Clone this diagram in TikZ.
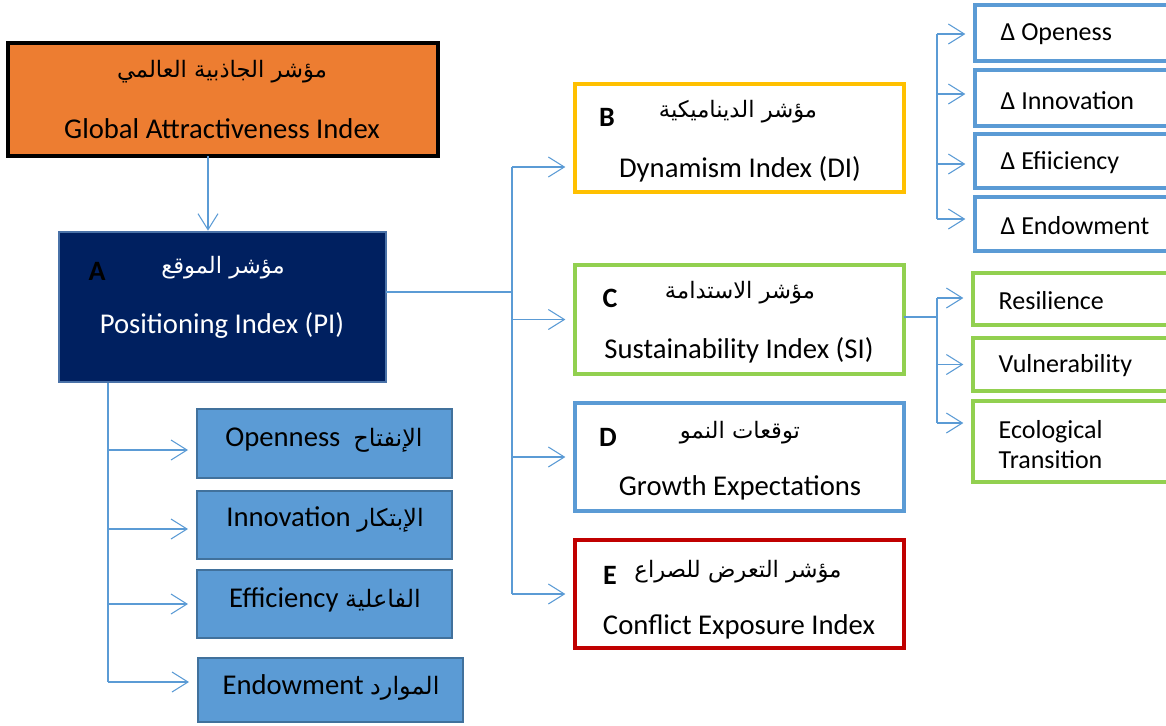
\documentclass[tikz,border=0pt]{standalone}
\usepackage{fontspec}
\setmainfont{Carlito}
\newfontfamily\arabicfont[Script=Arabic]{DejaVu Sans}
\TeXXeTstate=1
\usetikzlibrary{arrows.meta,fit}
\definecolor{orangebox}{HTML}{ED7D31}
\definecolor{navybox}{HTML}{002060}
\definecolor{navyline}{HTML}{4A72A8}
\definecolor{lightblue}{HTML}{5B9BD5}
\definecolor{darkblue}{HTML}{41719C}
\definecolor{yellowline}{HTML}{FFC000}
\definecolor{greenline}{HTML}{92D050}
\definecolor{redline}{HTML}{C00000}
\newcommand{\ar}[1]{{\arabicfont\beginR #1\endR}}
\newcommand{\sar}[1]{{\fontsize{18}{20}\selectfont\arabicfont\beginR #1\endR}}

\begin{document}
\begin{tikzpicture}[x=0.75pt,y=-0.75pt,
  box/.style={inner sep=0pt,line width=2.5pt},
  link/.style={draw=lightblue,line width=0.8pt},
  dlink/.style={draw=lightblue,line width=0.6pt,double=white,double distance=1pt},
  arr/.style={link,-{Straight Barb[length=12pt,width=15pt]}},
  gap/.style={shorten >=6pt},
  entxt/.style={font=\fontsize{21.5}{24}\selectfont},
  artxt/.style={font=\fontsize{17}{20}\selectfont\arabicfont},
  smalltxt/.style={font=\fontsize{19.5}{22.5}\selectfont,anchor=west,align=left},
  lett/.style={font=\fontsize{21}{22}\selectfont\bfseries}]
\clip (0,0) rectangle (1166,725);

\node[box,draw=black,fill=orangebox,fit={(8,43) (438,156)}] (gai) {};
\node[artxt] (gaiAr) at (222,72) {\ar{مؤشر الجاذبية العالمي}};
\node[entxt] (gaiEn) at (222,129) {Global Attractiveness Index};

\node[box,line width=2pt,draw=navyline,fill=navybox,fit={(59,232) (386,382)}] (pi) {};
\node[lett] (piL) at (97,271) {A};
\node[artxt,text=white] (piAr) at (223,268) {\ar{مؤشر الموقع}};
\node[entxt,text=white] (piEn) at (222,325) {Positioning Index (PI)};

\node[box,draw=yellowline,fill=white,fit={(575,84) (904,192)}] (di) {};
\node[lett] (diL) at (607,117) {B};
\node[artxt] (diAr) at (738,112) {\ar{مؤشر الديناميكية}};
\node[entxt] (diEn) at (740,169) {Dynamism Index (DI)};

\node[box,draw=greenline,fill=white,fit={(575,265) (904,374)}] (si) {};
\node[lett] (siL) at (610,298) {C};
\node[artxt] (siAr) at (740,293) {\ar{مؤشر الاستدامة}};
\node[entxt] (siEn) at (739,350) {Sustainability Index (SI)};

\node[box,draw=lightblue,fill=white,fit={(575,403) (904,511)}] (ge) {};
\node[lett] (geL) at (608,437) {D};
\node[artxt] (geAr) at (740,433) {\ar{توقعات النمو}};
\node[entxt] (geEn) at (740,488) {Growth Expectations};

\node[box,draw=redline,fill=white,fit={(575,540) (904,648)}] (ce) {};
\node[lett] (ceL) at (610,575) {E};
\node[artxt] (ceAr) at (738,572) {\ar{مؤشر التعرض للصراع}};
\node[entxt] (ceEn) at (739,627) {Conflict Exposure Index};

\node[box,line width=1.5pt,draw=darkblue,fill=lightblue,fit={(197,409) (452,478)}] (op) {};
\node[entxt] (opT) at (324,440) {Openness\ \ \sar{الإنفتاح}};
\node[box,line width=1.5pt,draw=darkblue,fill=lightblue,fit={(197,491) (452,559)}] (in) {};
\node[entxt] (inT) at (325,520) {Innovation \sar{الإبتكار}};
\node[box,line width=1.5pt,draw=darkblue,fill=lightblue,fit={(197,570) (452,638)}] (ef) {};
\node[entxt] (efT) at (325,600) {Efficiency \sar{الفاعلية}};
\node[box,line width=1.5pt,draw=darkblue,fill=lightblue,fit={(198,658) (463,722)}] (en) {};
\node[entxt] (enT) at (331,687) {Endowment \sar{الموارد}};

\node[box,draw=lightblue,fill=white,fit={(975,5) (1175,61)}] (dop) {};
\node[smalltxt] (dopT) at (996,34) {Δ Openess};
\node[box,draw=lightblue,fill=white,fit={(975,70) (1175,126)}] (din) {};
\node[smalltxt] (dinT) at (996,101) {Δ Innovation};
\node[box,draw=lightblue,fill=white,fit={(975,134) (1175,188)}] (def) {};
\node[smalltxt] (defT) at (996,163) {Δ Efiiciency};
\node[box,draw=lightblue,fill=white,fit={(975,197) (1175,251)}] (den) {};
\node[smalltxt] (denT) at (996,226) {Δ Endowment};

\node[box,draw=greenline,fill=white,fit={(973,273) (1175,325)}] (res) {};
\node[smalltxt] (resT) at (994,301) {Resilience};
\node[box,draw=greenline,fill=white,fit={(973,338) (1175,391)}] (vul) {};
\node[smalltxt] (vulT) at (994,366) {Vulnerability};
\node[box,draw=greenline,fill=white,fit={(973,401) (1175,482)}] (eco) {};
\node[smalltxt] (ecoT) at (994,445) {Ecological\\Transition};

% connectors
\coordinate (gaiOut) at (208,156);
\draw[arr] (gaiOut) -- (gaiOut |- pi.north);

\coordinate (piOut) at (386,292);
\coordinate (tB) at (512,167);
\coordinate (tE) at (512,594);
\draw[link] (piOut) -- (piOut -| tB);
\draw[link] (tB) -- (tE);
\draw[arr,gap] (tB) -- (tB -| di.west);
\draw[arr,gap] (tB |- si.west) -- (si.west);
\draw[arr,gap] (tB |- ge.west) -- (ge.west);
\draw[arr,gap] (tE) -- (tE -| ce.west);

\coordinate (tL) at (108,682);
\draw[link] (pi.south -| tL) -- (tL);
\draw[arr,gap] (tL |- 0,450) -- (op.west |- 0,450);
\draw[arr,gap] (tL |- 0,529) -- (in.west |- 0,529);
\draw[arr,gap] (tL |- ef.west) -- (ef.west);
\draw[arr,gap] (tL) -- (tL -| en.west);

\coordinate (diOut) at (906,117);
\coordinate (tDI) at (937,34);
\coordinate (tDI2) at (937,219);
\draw[dlink] (diOut) -- (diOut -| tDI);
\draw[link] (tDI) -- (tDI2);
\draw[arr,gap] (tDI) -- (tDI -| dop.west);
\draw[arr,gap] (tDI |- 0,94) -- (din.west |- 0,94);
\draw[arr,gap] (tDI |- 0,164) -- (def.west |- 0,164);
\draw[arr,gap] (tDI2) -- (tDI2 -| den.west);

\coordinate (siOut) at (904,317);
\coordinate (tSI) at (937,298);
\coordinate (tSI2) at (937,423);
\draw[link] (siOut) -- (siOut -| tSI);
\draw[link] (tSI) -- (tSI2);
\draw[arr,gap] (tSI) -- (tSI -| res.west);
\draw[arr,gap] (tSI |- vul.west) -- (vul.west);
\draw[arr,gap] (tSI2) -- (tSI2 -| eco.west);
\end{tikzpicture}
\end{document}
